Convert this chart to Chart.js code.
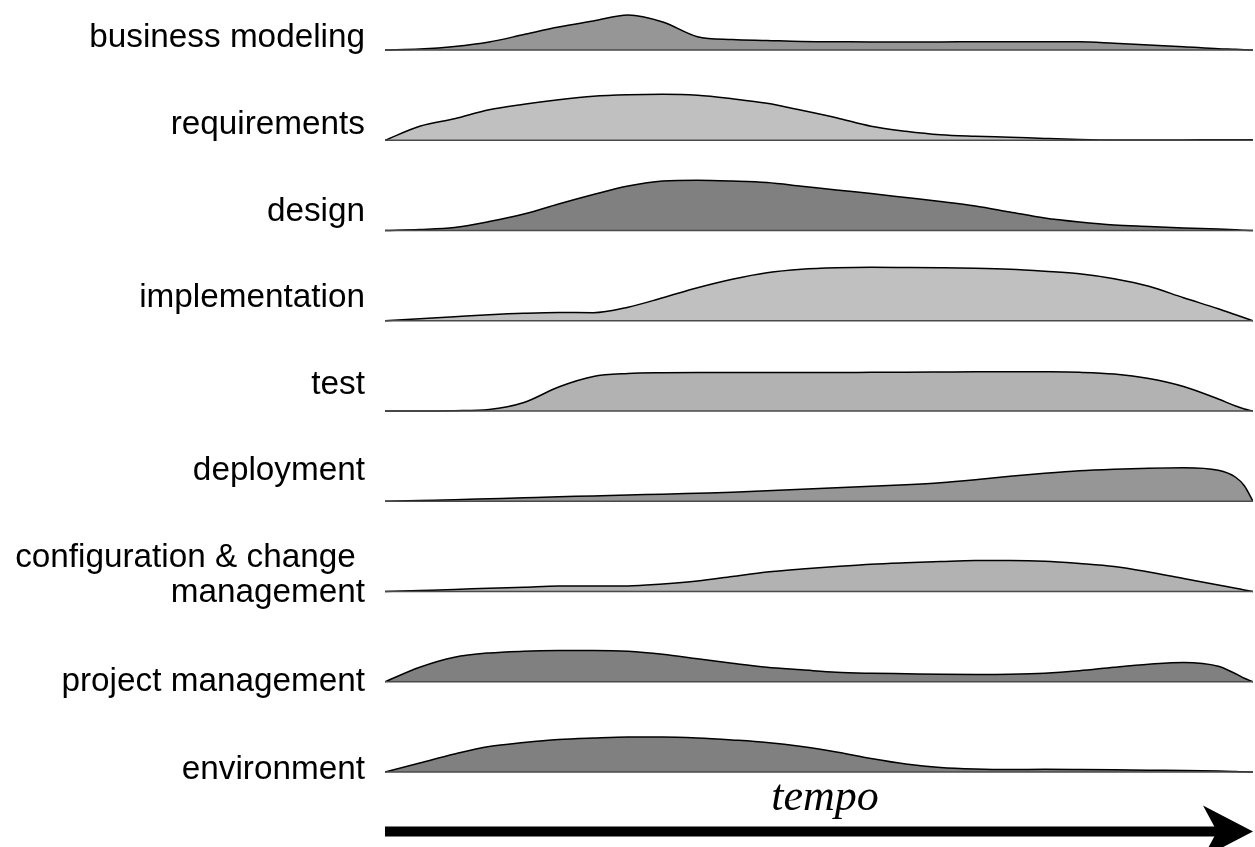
<!DOCTYPE html>
<html>
<head>
<meta charset="utf-8">
<script src="https://cdn.jsdelivr.net/npm/chart.js@4/dist/chart.umd.min.js"></script>
<style>
html,body{margin:0;padding:0;background:#fff;}
#wrap{width:1255px;height:847px;position:relative;}
</style>
</head>
<body>
<div id="wrap"><canvas id="c"></canvas></div>
<script>
// ---- data (heights, in the picture's units) ----
const timeSteps = [0,4,8,12,16,20,24,28,32,36,40,44,48,52,56,60,64,68,72,76,80,84,88,92,96,98,99,100];
const disciplines = [
  "business modeling",
  "requirements",
  "design",
  "implementation",
  "test",
  "deployment",
  ["configuration & change ", "management"],
  "project management",
  "environment"
];
const businessModeling = [0,1,3.5,8,15.5,23,29,35,28,13.3,10.5,9.5,8.5,8.3,8,8,8,8.3,8.3,8.3,8.3,6.8,5,3.3,1.3,0.7,0.3,0];
const requirements     = [0,14,21.5,30.5,36,40.5,44,45.5,46,45,41.5,37,30,22.5,14,9,5.5,4,3,1.8,0.8,0.3,0.3,0.3,0.5,0.5,0.5,0.5];
const design           = [0,1,3,9,16.5,26.5,36,44.5,49.5,50.3,49.5,48,44.3,40.5,37,33,29,24.5,18.5,12.5,8.5,5.5,4,2.5,1.5,0.8,0.3,0];
const implementation   = [0,2,4,6,7.5,8.3,8,13.5,23,33,41.5,48,51.5,53,53.5,53.3,53,52.5,51.5,49.5,47,42,34.5,23,12,6,3,0];
const test             = [0,0,0.3,1.5,8.5,24,34.5,37.5,38.3,38.5,38.5,38.5,38.5,38.5,38.7,38.8,39,39.2,39.3,39.2,38.7,37,32.5,24.5,12,5,2,0];
const deployment       = [0,0.8,1.5,2.5,3.5,4.5,5.3,6.3,7,8,9,10.5,12,13.5,15,16.5,18.5,21.5,25,28,30.5,32,33,33.5,31,24,15.5,0];
const configChange     = [0,1,2,3.3,4.3,5.5,5.5,5.5,7.5,10.5,15,19.5,22.5,25,27.3,28.8,30,31,31,30.3,28,25,19.5,13,6.5,3.3,1.6,0];
const projectMgmt      = [0,14.5,24.5,28.8,30.5,31.2,31.3,30.5,27.5,23,18.5,14.5,12,9.5,8.5,8,7.5,7.3,7.5,8.5,11,14.5,17.5,19.3,15.5,8,3.5,0];
const environment      = [0,9,18,25.5,29.5,32.5,34,35,35,34,32,29.5,25.5,20,13.5,8,4.5,3,2.5,2.7,2.5,2.2,1.8,1.5,1,0.5,0.2,0];
const series = [businessModeling, requirements, design, implementation, test, deployment, configChange, projectMgmt, environment];

// ---- styles / layout ----
const fills = ['#969696','#c0c0c0','#808080','#c0c0c0','#b2b2b2','#969696','#b2b2b2','#808080','#808080'];
const H = 847;
const firstBase = 50, laneStep = 90.25;
const baseOf = i => firstBase + laneStep * i;
const labelCentres = [37.5, 125, 212, 298, 385, 471, 575, 681.5, 769.5];

const datasets = [];
series.forEach((vals, i) => {
  const b = baseOf(i);
  datasets.push({
    label: Array.isArray(disciplines[i]) ? disciplines[i].join('') : disciplines[i],
    data: vals.map((h, k) => ({x: timeSteps[k], y: b - h})),
    backgroundColor: fills[i],
    borderColor: '#000',
    borderWidth: 1.5,
    fill: {value: b},
    pointRadius: 0,
    cubicInterpolationMode: 'monotone',
    order: 2
  });
});
series.forEach((vals, i) => {
  const b = baseOf(i);
  datasets.push({
    label: 'base' + i,
    data: [{x: timeSteps[0], y: b}, {x: timeSteps[timeSteps.length - 1], y: b}],
    borderColor: '#4a4a4a',
    borderWidth: 1.6,
    fill: false,
    pointRadius: 0,
    order: 1
  });
});

const tempoArrow = {
  id: 'tempoArrow',
  afterDraw(chart) {
    const {ctx, chartArea: a} = chart;
    const y = 831.5;
    ctx.save();
    ctx.fillStyle = '#000';
    ctx.fillRect(a.left, y - 5, (a.right - 30) - a.left, 10);
    ctx.beginPath();
    ctx.moveTo(a.right, y);
    ctx.lineTo(a.right - 50, y - 26);
    ctx.lineTo(a.right - 36, y);
    ctx.lineTo(a.right - 50, y + 26);
    ctx.closePath();
    ctx.fill();
    ctx.font = 'italic 44px "Liberation Serif", "DejaVu Serif", serif';
    ctx.textAlign = 'center';
    ctx.textBaseline = 'alphabetic';
    ctx.fillText('tempo', 825, 810);
    ctx.restore();
  }
};

new Chart(document.getElementById('c'), {
  type: 'line',
  data: {datasets},
  options: {
    responsive: true,
    maintainAspectRatio: false,
    animation: false,
    events: [],
    layout: {padding: {left: 0, right: 2, top: 0, bottom: 0}},
    plugins: {legend: {display: false}, tooltip: {enabled: false}},
    scales: {
      x: {type: 'linear', min: 0, max: 100, display: false},
      y: {type: 'linear', min: 0, max: H, reverse: true, display: false},
      yl: {
        type: 'linear', position: 'left', min: 0, max: H, reverse: true,
        grid: {display: false, drawTicks: false},
        border: {display: false},
        afterBuildTicks: s => { s.ticks = labelCentres.map(v => ({value: v})); },
        afterFit: s => { s.width = 385; s.paddingTop = 0; s.paddingBottom = 0; },
        ticks: {
          autoSkip: false,
          padding: 20,
          color: '#000',
          font: {family: '"Liberation Sans", Arial, sans-serif', size: 33.3, lineHeight: 1.06},
          callback: (v, i) => disciplines[i]
        }
      }
    }
  },
  plugins: [tempoArrow]
});
</script>
</body>
</html>
